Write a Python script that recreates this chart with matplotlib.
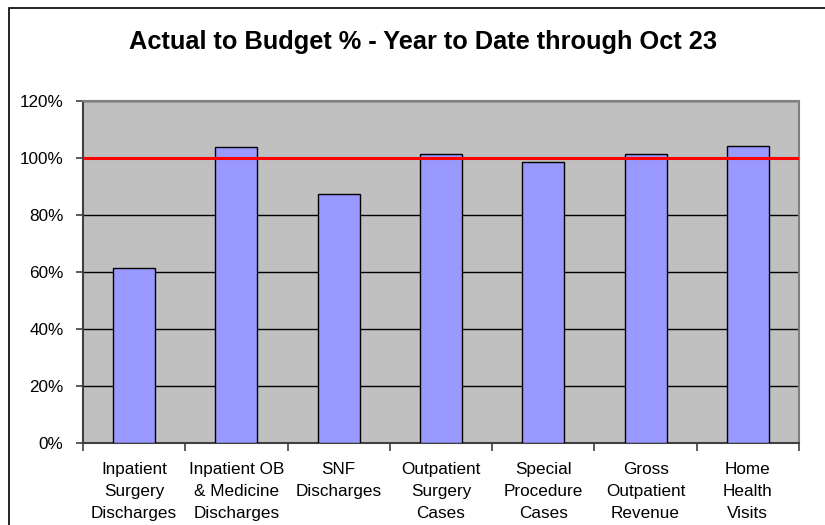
import matplotlib.pyplot as plt
import numpy as np
from matplotlib.patches import Rectangle
from matplotlib.ticker import FuncFormatter, FixedLocator

plt.rcParams['font.family'] = ['Liberation Sans', 'DejaVu Sans']

categories = [
    'Inpatient\nSurgery\nDischarges',
    'Inpatient OB\n& Medicine\nDischarges',
    'SNF\nDischarges',
    'Outpatient\nSurgery\nCases',
    'Special\nProcedure\nCases',
    'Gross\nOutpatient\nRevenue',
    'Home\nHealth\nVisits',
]
actual_to_budget = [61.4, 103.6, 87.2, 101.2, 98.4, 101.2, 104.1]
budget_line = 100
yticks = [0, 20, 40, 60, 80, 100, 120]

fig = plt.figure(figsize=(8.25, 5.25), dpi=100)
ax = fig.add_axes([83 / 825, 1 - 442.7 / 525, 716 / 825, 342 / 525])

# chart frame, only the top and left sides fall inside the image
fig.patches.append(Rectangle((8.5 / 825, -0.1), 1.2, 1.1 - 8.5 / 525,
                             transform=fig.transFigure, fill=False,
                             edgecolor='black', linewidth=1.2))

ax.set_facecolor('#C0C0C0')
x = np.arange(len(categories))
ax.bar(x, actual_to_budget, width=0.41, color='#9999FF',
       edgecolor='black', linewidth=1, zorder=3)
ax.axhline(budget_line, color='#FF0000', linewidth=2.2, zorder=4)

ax.set_xlim(-0.5, len(categories) - 0.5)
ax.set_ylim(0, 120)
ax.set_yticks(yticks)
ax.yaxis.set_major_formatter(FuncFormatter(lambda v, p: f'{v:.0f}%'))
ax.grid(axis='y', color='black', linewidth=1, zorder=1)
ax.set_axisbelow(True)

ax.set_xticks(x)
ax.set_xticklabels(categories, linespacing=1.58)
ax.xaxis.set_minor_locator(FixedLocator(np.arange(len(categories) + 1) - 0.5))
ax.tick_params(axis='x', which='major', length=0, pad=14, labelsize=12.3)
ax.tick_params(axis='x', which='minor', length=6, width=1.2, color='#404040')
ax.tick_params(axis='y', length=5, width=1.2, color='#404040', pad=9,
               labelsize=12.3)

for side in ['top', 'right']:
    ax.spines[side].set_color('#808080')
    ax.spines[side].set_linewidth(1.5)
for side in ['left', 'bottom']:
    ax.spines[side].set_color('#404040')
    ax.spines[side].set_linewidth(1.5)

fig.text(423 / 825, 1 - 49.5 / 525, 'Actual to Budget % - Year to Date through Oct 23',
         ha='center', va='baseline', fontsize=18.3, fontweight='bold')

fig.savefig('out.png', dpi=100)
